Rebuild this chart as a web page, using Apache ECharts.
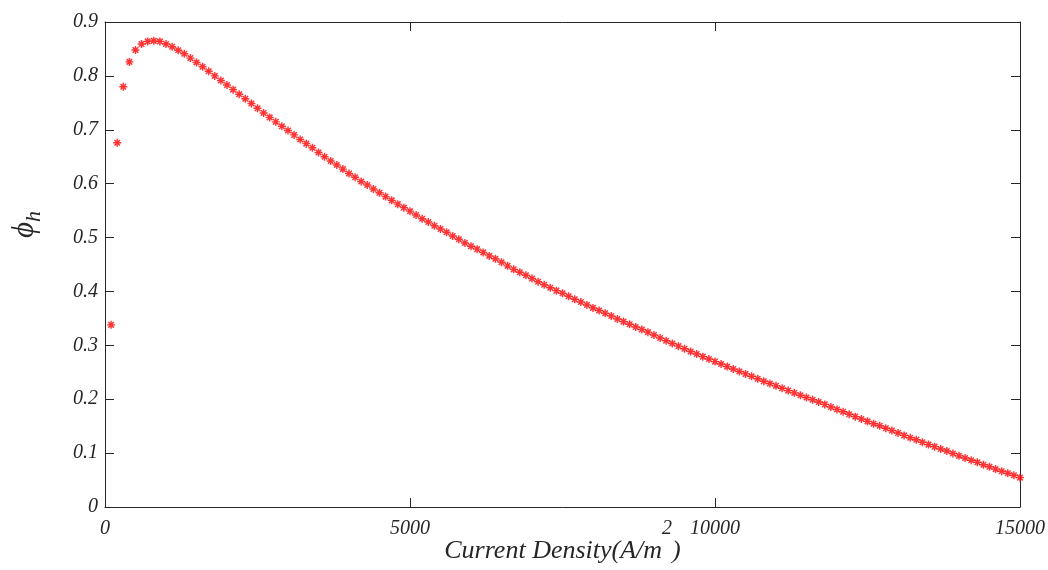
<!DOCTYPE html>
<html>
<head>
<meta charset="utf-8">
<style>
  html, body { margin: 0; padding: 0; background: #fff; }
  #chart { width: 1048px; height: 570px; }
</style>
<script src="https://cdn.jsdelivr.net/npm/echarts@6/dist/echarts.min.js"></script>
</head>
<body>
<div id="chart"></div>
<script>
// Current density samples (A/m^2)
const currentDensity = [
  100, 200, 300, 400, 500, 600, 700, 800, 900, 1000,
  1100, 1200, 1300, 1400, 1500, 1600, 1700, 1800, 1900, 2000,
  2100, 2200, 2300, 2400, 2500, 2600, 2700, 2800, 2900, 3000,
  3100, 3200, 3300, 3400, 3500, 3600, 3700, 3800, 3900, 4000,
  4100, 4200, 4300, 4400, 4500, 4600, 4700, 4800, 4900, 5000,
  5100, 5200, 5300, 5400, 5500, 5600, 5700, 5800, 5900, 6000,
  6100, 6200, 6300, 6400, 6500, 6600, 6700, 6800, 6900, 7000,
  7100, 7200, 7300, 7400, 7500, 7600, 7700, 7800, 7900, 8000,
  8100, 8200, 8300, 8400, 8500, 8600, 8700, 8800, 8900, 9000,
  9100, 9200, 9300, 9400, 9500, 9600, 9700, 9800, 9900, 10000,
  10100, 10200, 10300, 10400, 10500, 10600, 10700, 10800, 10900, 11000,
  11100, 11200, 11300, 11400, 11500, 11600, 11700, 11800, 11900, 12000,
  12100, 12200, 12300, 12400, 12500, 12600, 12700, 12800, 12900, 13000,
  13100, 13200, 13300, 13400, 13500, 13600, 13700, 13800, 13900, 14000,
  14100, 14200, 14300, 14400, 14500, 14600, 14700, 14800, 14900, 15000
];

// phi_h at each current density
const phiH = [
  0.338, 0.676, 0.780, 0.826, 0.848, 0.859, 0.864, 0.865, 0.864, 0.859,
  0.854, 0.8475, 0.841, 0.833, 0.825, 0.817, 0.8085, 0.800, 0.7915, 0.783,
  0.7745, 0.766, 0.7575, 0.7487, 0.740, 0.7313, 0.723, 0.7147, 0.7067, 0.6987,
  0.6905, 0.682, 0.6743, 0.6667, 0.658, 0.650, 0.642, 0.6345, 0.627, 0.619,
  0.612, 0.604, 0.5975, 0.590, 0.583, 0.576, 0.569, 0.562, 0.5555, 0.549,
  0.542, 0.535, 0.529, 0.522, 0.516, 0.510, 0.503, 0.497, 0.490, 0.484,
  0.4785, 0.4725, 0.466, 0.4605, 0.454, 0.4475, 0.441, 0.4355, 0.430, 0.424,
  0.418, 0.4125, 0.407, 0.4015, 0.3965, 0.391, 0.3855, 0.3805, 0.375, 0.3695,
  0.3645, 0.3595, 0.3545, 0.349, 0.344, 0.339, 0.334, 0.3295, 0.3245, 0.319,
  0.3135, 0.3085, 0.3035, 0.2985, 0.2935, 0.2885, 0.284, 0.279, 0.2745, 0.2698,
  0.2653, 0.2605, 0.256, 0.2515, 0.247, 0.2425, 0.238, 0.2335, 0.229, 0.2248,
  0.2205, 0.216, 0.2118, 0.2075, 0.2032, 0.199, 0.1947, 0.1904, 0.1856, 0.181,
  0.1766, 0.1721, 0.1677, 0.1633, 0.1589, 0.1545, 0.1506, 0.1462, 0.1418, 0.1373,
  0.1329, 0.1285, 0.1247, 0.1203, 0.1158, 0.112, 0.1076, 0.1038, 0.0993, 0.0949,
  0.0911, 0.0868, 0.0829, 0.0785, 0.0747, 0.0703, 0.0665, 0.0627, 0.0589, 0.0545
];

const xTicks = [0, 5000, 10000, 15000];
const yTicks = [0, 0.1, 0.2, 0.3, 0.4, 0.5, 0.6, 0.7, 0.8, 0.9];

const points = currentDensity.map((x, i) => [x, phiH[i]]);

// Asterisk marker built from four thin bars
const asterisk = 'path://M0 4.1H10V5.9H0Z M4.1 0H5.9V10H4.1Z ' +
  'M0.9 2.2L2.2 0.9L9.1 7.8L7.8 9.1Z M7.8 0.9L9.1 2.2L2.2 9.1L0.9 7.8Z';

const ink = '#262626';
const serif = 'Liberation Serif, Times New Roman, serif';

const chart = echarts.init(document.getElementById('chart'), null, { renderer: 'canvas' });

const baseAxisLine = { show: true, onZero: false, lineStyle: { color: ink, width: 1 } };
const baseTick = { show: true, inside: true, length: 9, lineStyle: { color: ink, width: 1 } };

chart.setOption({
  animation: false,
  backgroundColor: '#ffffff',
  grid: {
    left: 105, right: 28, top: 22, bottom: 63,
    containLabel: false,
    outerBoundsMode: 'none'
  },
  xAxis: [
    {
      type: 'value',
      min: xTicks[0],
      max: xTicks[xTicks.length - 1],
      interval: xTicks[1] - xTicks[0],
      position: 'bottom',
      axisLine: baseAxisLine,
      axisTick: baseTick,
      splitLine: { show: false },
      axisLabel: {
        color: ink, fontFamily: serif, fontStyle: 'italic', fontSize: 20, margin: 12,
        formatter: v => String(v)
      },
      name: '{m|Current Density(A/m}{s|2}{m|)}',
      nameLocation: 'middle',
      nameGap: 12,
      nameMoveOverlap: false,
      nameTextStyle: {
        rich: {
          m: { fontFamily: serif, fontStyle: 'italic', fontSize: 26, color: ink, lineHeight: 45, verticalAlign: 'bottom' },
          s: { fontFamily: serif, fontStyle: 'italic', fontSize: 20, color: ink, verticalAlign: 'top' }
        }
      }
    },
    {
      type: 'value',
      min: xTicks[0],
      max: xTicks[xTicks.length - 1],
      interval: xTicks[1] - xTicks[0],
      position: 'top',
      axisLine: baseAxisLine,
      axisTick: baseTick,
      axisLabel: { show: false },
      splitLine: { show: false }
    }
  ],
  yAxis: [
    {
      type: 'value',
      min: yTicks[0],
      max: yTicks[yTicks.length - 1],
      interval: 0.1,
      position: 'left',
      axisLine: baseAxisLine,
      axisTick: baseTick,
      splitLine: { show: false },
      axisLabel: {
        color: ink, fontFamily: serif, fontStyle: 'italic', fontSize: 20, margin: 7,
        formatter: v => String(Math.round(v * 10) / 10)
      },
      name: '{p|\u03d5}{s|h}',
      nameLocation: 'middle',
      nameRotate: 90,
      nameGap: 60,
      nameMoveOverlap: false,
      nameTextStyle: {
        padding: [0, 0, 0, 80],
        rich: {
          p: { fontFamily: serif, fontStyle: 'italic', fontSize: 31, color: ink, lineHeight: 36, verticalAlign: 'top' },
          s: { fontFamily: serif, fontStyle: 'italic', fontSize: 22, color: ink, lineHeight: 36, verticalAlign: 'bottom' }
        }
      }
    },
    {
      type: 'value',
      min: yTicks[0],
      max: yTicks[yTicks.length - 1],
      interval: 0.1,
      position: 'right',
      axisLine: baseAxisLine,
      axisTick: baseTick,
      axisLabel: { show: false },
      splitLine: { show: false }
    }
  ],
  series: [
    {
      type: 'scatter',
      xAxisIndex: 0,
      yAxisIndex: 0,
      data: points,
      symbol: asterisk,
      symbolSize: 8,
      itemStyle: { color: '#ff0000' },
      emphasis: { disabled: true }
    }
  ]
});
</script>
</body>
</html>
